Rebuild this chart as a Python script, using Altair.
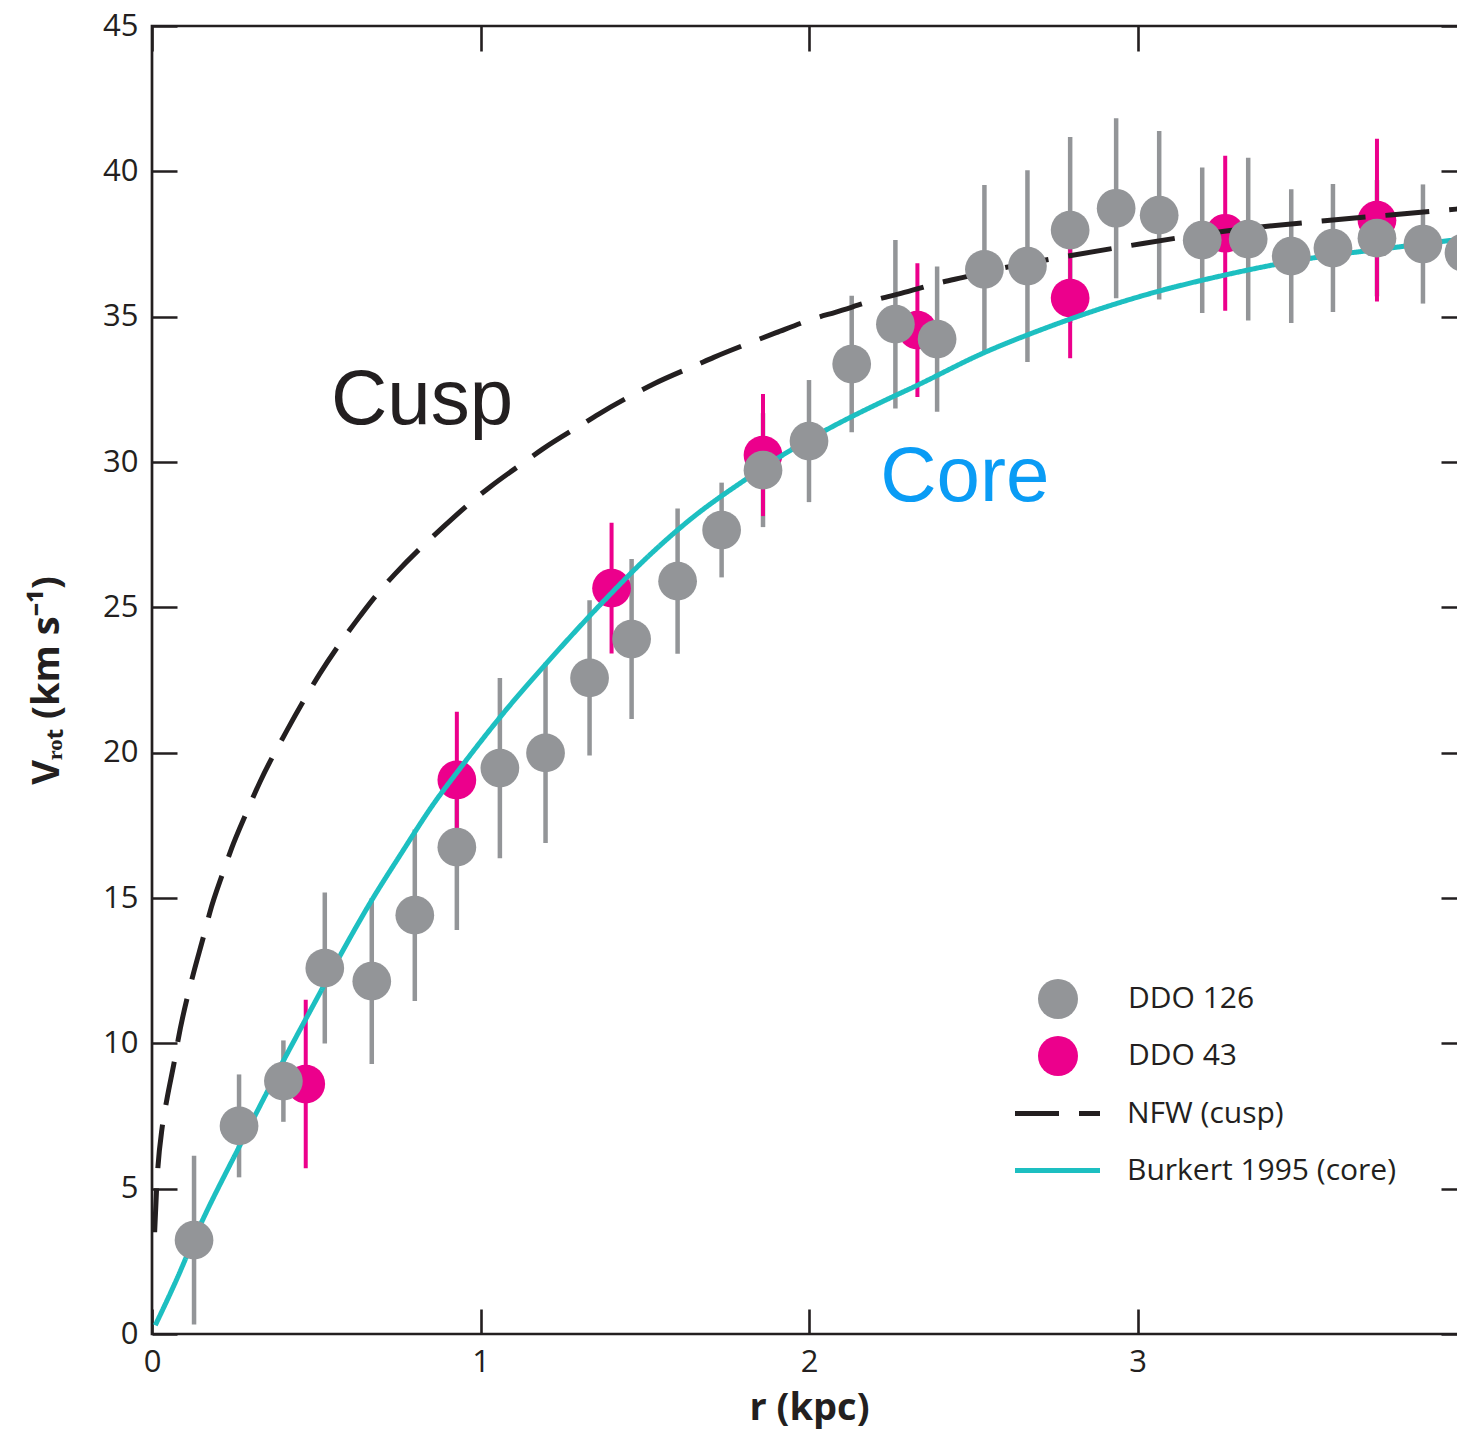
import altair as alt
import pandas as pd

# ---- data ----
gray_r = [0.128, 0.265, 0.40, 0.526, 0.669, 0.80, 0.928, 1.059, 1.198, 1.332,
          1.46, 1.60, 1.734, 1.86, 2.0, 2.13, 2.263, 2.39, 2.534, 2.665,
          2.795, 2.935, 3.066, 3.197, 3.337, 3.468, 3.595, 3.729, 3.869, 3.994]
gray_v = [3.23, 7.16, 8.70, 12.59, 12.14, 14.41, 16.75, 19.47, 19.99, 22.57,
          23.91, 25.9, 27.66, 29.72, 30.72, 33.37, 34.74, 34.23, 36.63, 36.74,
          37.98, 38.73, 38.49, 37.63, 37.67, 37.08, 37.36, 37.7, 37.5, 37.2]
gray_e = [2.9, 1.77, 1.4, 2.6, 2.85, 2.95, 2.85, 3.1, 3.1, 2.67,
          2.75, 2.5, 1.63, 1.96, 2.1, 2.35, 2.9, 2.5, 2.9, 3.3,
          3.2, 3.1, 2.9, 2.5, 2.8, 2.3, 2.2, 2.0, 2.05, 2.2]

pink_r = [0.468, 0.928, 1.399, 1.86, 2.33, 2.795, 3.267, 3.729]
pink_v = [8.6, 19.06, 25.66, 30.24, 34.54, 35.64, 37.87, 38.32]
pink_e = [2.9, 2.35, 2.25, 2.1, 2.3, 2.07, 2.67, 2.8]

nfw_r = [0.008, 0.014, 0.032, 0.045, 0.07, 0.08, 0.11, 0.126, 0.161, 0.176,
         0.217, 0.242, 0.288, 0.329, 0.41, 0.47, 0.51, 0.62, 0.70, 0.74,
         0.89, 0.98, 1.03, 1.14, 1.19, 1.31, 1.36, 1.47, 1.53, 1.66,
         1.71, 1.82, 1.90, 2.02, 2.08, 2.21, 2.28, 2.41, 2.47, 2.58,
         2.72, 2.98, 3.27, 3.57, 3.77, 3.97, 4.0]
nfw_v = [3.5, 5.0, 7.2, 8.05, 9.5, 10.15, 11.7, 12.4, 13.85, 14.5,
         15.9, 16.7, 17.95, 19.0, 20.75, 21.95, 22.7, 24.5, 25.65, 26.15,
         27.8, 28.7, 29.15, 30.05, 30.45, 31.3, 31.65, 32.35, 32.7, 33.35,
         33.6, 34.1, 34.45, 34.95, 35.15, 35.6, 35.8, 36.2, 36.35, 36.65,
         36.95, 37.45, 37.95, 38.3, 38.5, 38.7, 38.73]

bur_r = [0.01, 0.07, 0.141, 0.268, 0.40, 0.50, 0.562, 0.673, 0.754, 0.861,
         0.927, 1.069, 1.21, 1.373, 1.515, 1.636, 1.819, 1.92, 2.052, 2.224,
         2.326, 2.529, 2.73, 3.015, 3.289, 3.49, 3.796, 4.0]
bur_v = [0.3, 1.75, 3.6, 6.5, 9.4, 11.5, 12.8, 15.0, 16.45, 18.3,
         19.3, 21.35, 23.19, 25.19, 26.8, 28.0, 29.49, 30.24, 31.1, 32.08,
         32.62, 33.74, 34.65, 35.72, 36.49, 36.94, 37.4, 37.69]

galaxies = ["DDO 126", "DDO 43"]
models = ["NFW (cusp)", "Burkert 1995 (core)"]
x_ticks = [0, 1, 2, 3, 4]
y_ticks = [0, 5, 10, 15, 20, 25, 30, 35, 40, 45]
labels_txt = ["Cusp", "Core"]
labels_r = [0.545, 2.217]
labels_v = [31.3, 28.65]

# ---- styling ----
INK = "#231f20"
GRAY = "#939598"
PINK = "#ec008c"
TEAL = "#1dbfc1"
BLUE = "#0a9cf5"
FONT = "Open Sans"
W, H = 1314, 1308


def pts(rs, vs, es, name):
    return pd.DataFrame({"r": rs, "v": vs,
                         "lo": [v - e for v, e in zip(vs, es)],
                         "hi": [v + e for v, e in zip(vs, es)],
                         "galaxy": name})


gray_df = pts(gray_r, gray_v, gray_e, galaxies[0])
pink_df = pts(pink_r, pink_v, pink_e, galaxies[1])
lines_df = pd.concat([
    pd.DataFrame({"r": nfw_r, "v": nfw_v, "model": models[0], "o": range(len(nfw_r))}),
    pd.DataFrame({"r": bur_r, "v": bur_v, "model": models[1], "o": range(len(bur_r))}),
])
text_df = pd.DataFrame({"r": labels_r, "v": labels_v, "t": labels_txt})

xs = alt.Scale(domain=[0, 4], nice=False, zero=False)
ys = alt.Scale(domain=[0, 45], nice=False, zero=True)

x_axis = alt.Axis(values=x_ticks, domain=False, ticks=False, tickSize=0,
                  grid=True, gridDash=[25, H - 50, 25], gridColor=INK,
                  gridWidth=2.6, gridOpacity=1,
                  labelFontSize=31, labelPadding=13, labelColor=INK, labelFont=FONT,
                  labelFlush=False,
                  title="r (kpc)", titleFontSize=38, titleFont=FONT,
                  titleFontWeight="bold", titleColor=INK, titlePadding=12)
y_axis = alt.Axis(values=y_ticks, domain=False, ticks=False, tickSize=0,
                  grid=True, gridDash=[25, W - 50, 25], gridColor=INK,
                  gridWidth=2.6, gridOpacity=1,
                  labelFontSize=31, labelPadding=14, labelColor=INK, labelFont=FONT,
                  labelFlush=False,
                  title="Vᵣₒₜ (km s⁻¹)", titleFontSize=38, titleFont=FONT,
                  titleFontWeight="bold", titleColor=INK, titlePadding=36)

X = alt.X("r:Q", scale=xs, axis=x_axis)
Y = alt.Y("v:Q", scale=ys, axis=y_axis)

fill_enc = alt.Fill("galaxy:N",
                    scale=alt.Scale(domain=galaxies, range=[GRAY, PINK]),
                    title=None,
                    legend=alt.Legend(orient="none", legendX=886, legendY=953,
                                      symbolType="circle", symbolSize=1600,
                                      symbolStrokeWidth=0, symbolOpacity=1,
                                      labelFontSize=30, labelFont=FONT, labelColor=INK,
                                      labelLimit=500,
                                      labelOffset=50, rowPadding=17, padding=0))

line_legend = alt.Legend(orient="none", legendX=883, legendY=1065,
                         symbolType="M-2.125,0L2.125,0", symbolSize=1600,
                         symbolStrokeWidth=5,
                         labelFontSize=30, labelFont=FONT, labelColor=INK,
                         labelLimit=500,
                         labelOffset=47, rowPadding=19, padding=0)

gray_err = alt.Chart(gray_df).mark_rule(color=GRAY, strokeWidth=4.5).encode(
    x=X, y=alt.Y("lo:Q", scale=ys, axis=y_axis), y2="hi:Q")
pink_err = alt.Chart(pink_df).mark_rule(color=PINK, strokeWidth=4).encode(
    x=X, y=alt.Y("lo:Q", scale=ys, axis=y_axis), y2="hi:Q")
pink_pts = alt.Chart(pink_df).mark_circle(size=1500, opacity=1).encode(
    x=X, y=Y, fill=fill_enc)
gray_pts = alt.Chart(gray_df).mark_circle(size=1500, opacity=1).encode(
    x=X, y=Y, fill=fill_enc)

lines = alt.Chart(lines_df).mark_line(strokeWidth=5, interpolate="monotone").encode(
    x=X, y=Y, order="o:Q",
    stroke=alt.Stroke("model:N", scale=alt.Scale(domain=models, range=[INK, TEAL]),
                      title=None, legend=line_legend),
    strokeDash=alt.StrokeDash("model:N",
                              scale=alt.Scale(domain=models, range=[[44, 20], [1, 0]]),
                              title=None, legend=line_legend),
)

texts = alt.Chart(text_df).mark_text(font="Liberation Sans", fontSize=78,
                                     align="left", baseline="alphabetic").encode(
    x=X, y=Y, text="t:N",
    color=alt.Color("t:N", scale=alt.Scale(domain=labels_txt, range=[INK, BLUE]), legend=None))

chart = alt.layer(gray_err, pink_err, pink_pts, lines, gray_pts, texts).properties(
    width=W, height=H,
    background="white",
    autosize=alt.AutoSizeParams(type="none"),
    padding={"left": 144, "top": 18, "right": -9, "bottom": 96},
).configure_view(stroke=INK, strokeWidth=2.7)

chart.save("out.html", embed_options={"renderer": "svg", "actions": False})
